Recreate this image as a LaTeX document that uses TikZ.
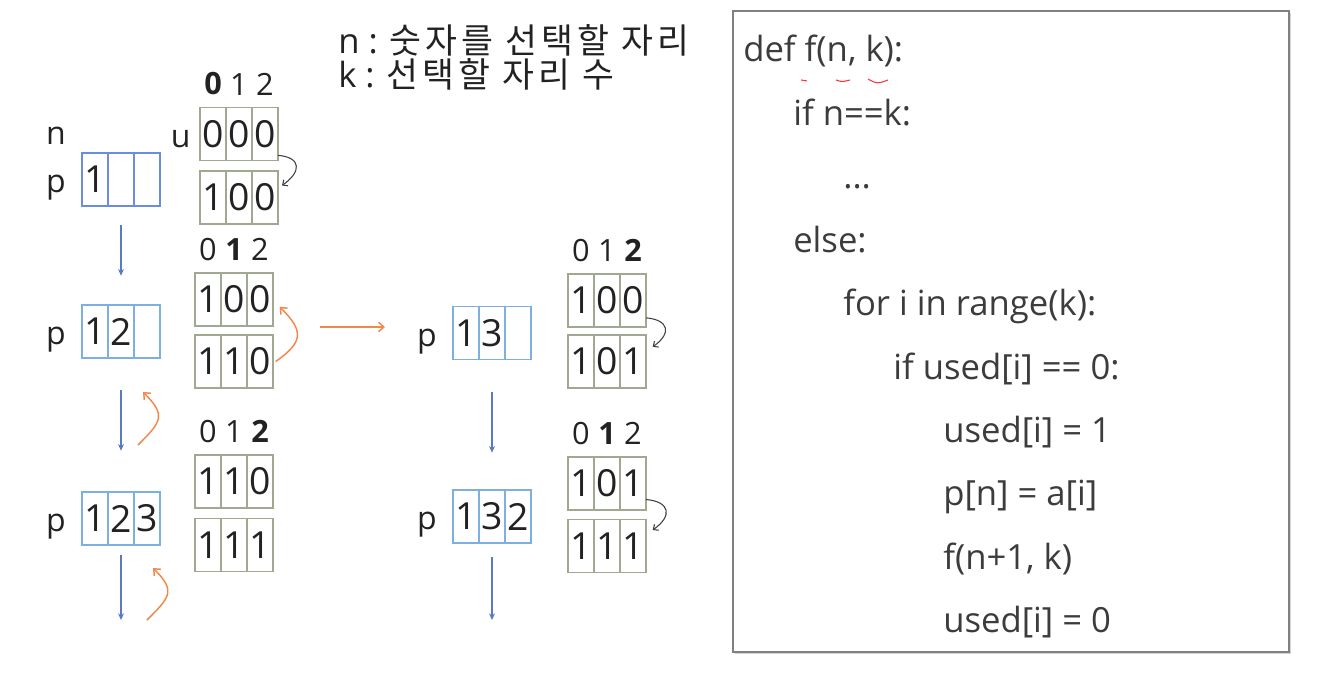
\documentclass[tikz,border=0pt]{standalone}
\usepackage{fontspec}
\setmainfont{Open Sans}
\newfontfamily\korfont[LetterSpace=12]{Noto Sans CJK KR}
\usetikzlibrary{positioning,arrows.meta,shadows}

\definecolor{pblueA}{HTML}{6A8DE0}
\definecolor{pblue}{HTML}{7DB0E0}
\definecolor{ugreen}{HTML}{A0A892}
\definecolor{backorange}{HTML}{F0894C}
\definecolor{downblue}{HTML}{5A7BC4}
\definecolor{codegray}{HTML}{3C3C3C}
\definecolor{ink}{HTML}{222222}

% one row of three cells: name, style, first cell position, entries
\newcommand{\cellrow}[6]{%
  \node[#2] (#1a) at #3 {#4};
  \node[#2, right=0pt of #1a] (#1b) {#5};
  \node[#2, right=0pt of #1b] (#1c) {#6};}

% index digits above a row
\newcommand{\idxrow}[4]{%
  \node[idx, above=9pt of #1a] {#2};
  \node[idx, above=9pt of #1b] {#3};
  \node[idx, above=9pt of #1c] {#4};}

\tikzset{
  cell/.style={minimum width=19.5pt, minimum height=39.75pt, inner sep=0pt,
    outer sep=0pt, line width=0.9pt, text=ink,
    font=\fontsize{28pt}{30pt}\selectfont},
  pbox/.style={cell, draw=pblue},
  pboxA/.style={cell, draw=pblueA},
  ubox/.style={cell, draw=ugreen},
  idx/.style={inner sep=0pt, text=ink, font=\fontsize{23pt}{25pt}\selectfont},
  lbl/.style={inner sep=0pt, text=ink, font=\fontsize{24pt}{26pt}\selectfont},
  hdr/.style={inner sep=0pt, text=ink, font=\fontsize{26pt}{28pt}\selectfont},
  codeline/.style={inner sep=0pt, text=codegray, font=\fontsize{26pt}{30pt}\selectfont},
  codebox/.style={draw={rgb,255:red,128;green,128;blue,128}, line width=1.2pt, fill=white,
    drop shadow={shadow xshift=1.5pt, shadow yshift=-1.5pt, opacity=.35}},
  down/.style={draw=downblue, line width=1pt, -{Stealth[length=5pt,width=4.5pt]}},
  back/.style={draw=backorange, line width=1.1pt, -{Straight Barb[length=4pt,width=7pt]}},
  flip/.style={draw=black!75, line width=0.8pt, -{Straight Barb[length=3pt,width=5.5pt]}},
  squiggle/.style={draw=red!80, line width=0.8pt}
}

\begin{document}
\begin{tikzpicture}[x=0.75pt, y=-0.75pt]
  \useasboundingbox (0,0) rectangle (1341,673);

  % header
  \node[hdr, anchor=west] (hd1) at (338,40) {n : {\korfont 숫자를 선택할 자리}};
  \node[hdr, anchor=west] (hd2) at ([yshift=-26pt]hd1.west) {k : {\korfont 선택할 자리 수}};

  % left column
  \cellrow{p1}{pboxA}{(95,179.5)}{1}{}{}
  \cellrow{p2}{pbox}{(95,331.5)}{1}{2}{}
  \cellrow{p3}{pbox}{(95,518.5)}{1}{2}{3}
  \node[lbl, anchor=base east] (pl1) at ([xshift=-12pt]p1a.base west) {p};
  \node[lbl, anchor=base] (nl) at ([yshift=36pt]pl1.base) {n};
  \node[lbl, anchor=base east] (pl2) at ([xshift=-12pt]p2a.base west) {p};
  \node[lbl, anchor=base east] (pl3) at ([xshift=-12pt]p3a.base west) {p};

  \cellrow{u1}{ubox}{(213,134)}{0}{0}{0}
  \cellrow{u2}{ubox}{(213,197.5)}{1}{0}{0}
  \cellrow{u3}{ubox}{(208,299.5)}{1}{0}{0}
  \cellrow{u4}{ubox}{(208,361.5)}{1}{1}{0}
  \cellrow{u5}{ubox}{(208,481.5)}{1}{1}{0}
  \cellrow{u6}{ubox}{(208,545)}{1}{1}{1}
  \node[lbl, anchor=base east] (ul) at ([xshift=-7pt]u1a.base west) {u};
  \idxrow{u1}{\textbf{0}}{1}{2}
  \idxrow{u3}{0}{\textbf{1}}{2}
  \idxrow{u5}{0}{1}{\textbf{2}}

  % middle column
  \cellrow{q1}{pbox}{(466,333)}{1}{3}{}
  \cellrow{q2}{pbox}{(466,516.5)}{1}{3}{2}
  \node[lbl, anchor=base east] (ql1) at ([xshift=-12pt]q1a.base west) {p};
  \node[lbl, anchor=base east] (ql2) at ([xshift=-12pt]q2a.base west) {p};

  \cellrow{v1}{ubox}{(581,300.5)}{1}{0}{0}
  \cellrow{v2}{ubox}{(581,361.5)}{1}{0}{1}
  \cellrow{v3}{ubox}{(581,483.5)}{1}{0}{1}
  \cellrow{v4}{ubox}{(581,546)}{1}{1}{1}
  \idxrow{v1}{0}{1}{\textbf{2}}
  \idxrow{v3}{0}{\textbf{1}}{2}

  % going down
  \coordinate (pend) at (121,620);
  \coordinate (qend) at (492,620);
  \draw[down, shorten <=14pt, shorten >=22pt] (p1b) -- (p2b);
  \draw[down, shorten <=24pt, shorten >=31pt] (p2b) -- (p3b);
  \draw[down, shorten <=7.5pt] (p3b) -- (pend);
  \draw[down, shorten <=24pt, shorten >=28pt] (q1b) -- (q2b);
  \draw[down, shorten <=10.5pt] (q2b) -- (qend);

  % marking used
  \draw[flip] ([yshift=-16pt]u1c.east) to[out=-5,in=35,looseness=2] ([xshift=3pt,yshift=9pt]u2c.east);
  \draw[flip] ([yshift=-13pt]v1c.east) to[out=-5,in=35,looseness=2] ([xshift=5pt,yshift=11pt]v2c.east);
  \draw[flip] ([yshift=-12pt]v3c.east) to[out=-5,in=35,looseness=2] ([xshift=5pt,yshift=12pt]v4c.east);

  % going back
  \coordinate (b1s) at (138,445);
  \coordinate (b1e) at (143,392);
  \coordinate (b2s) at (147,620);
  \coordinate (b2e) at (153,568);
  \coordinate (gos) at (320,327);
  \coordinate (goe) at (385,327);
  \draw[back] ([xshift=2pt]u4c.east) to[out=35,in=-45,looseness=1.6] ([xshift=5pt,yshift=-5.5pt]u3c.east);
  \draw[back] (b1s) to[out=45,in=-45,looseness=1.6] (b1e);
  \draw[back] (b2s) to[out=45,in=-45,looseness=1.6] (b2e);
  \draw[back] (gos) -- (goe);

  % code
  \node[codebox, minimum width=417pt, minimum height=480.75pt] (code) at (1011,331.5) {};
  \foreach \ind/\codetxt [count=\i from 0] in {0/{def f(n, k):}, 1/{if n==k:}, 2/{...},
      1/{else:}, 2/{for i in range(k):}, 3/{if used[i] == 0:}, 4/{used[i] = 1},
      4/{p[n] = a[i]}, 4/{f(n+1, k)}, 4/{used[i] = 0}}
    \node[codeline, anchor=base west] at (743+50*\ind, 62+63.4*\i) {\codetxt};
  \draw[squiggle] (801,80) -- (807,81);
  \draw[squiggle] (836,80) .. controls (842,82) .. (850,80);
  \draw[squiggle] (868,79) .. controls (877,84) .. (888,80);
\end{tikzpicture}
\end{document}
